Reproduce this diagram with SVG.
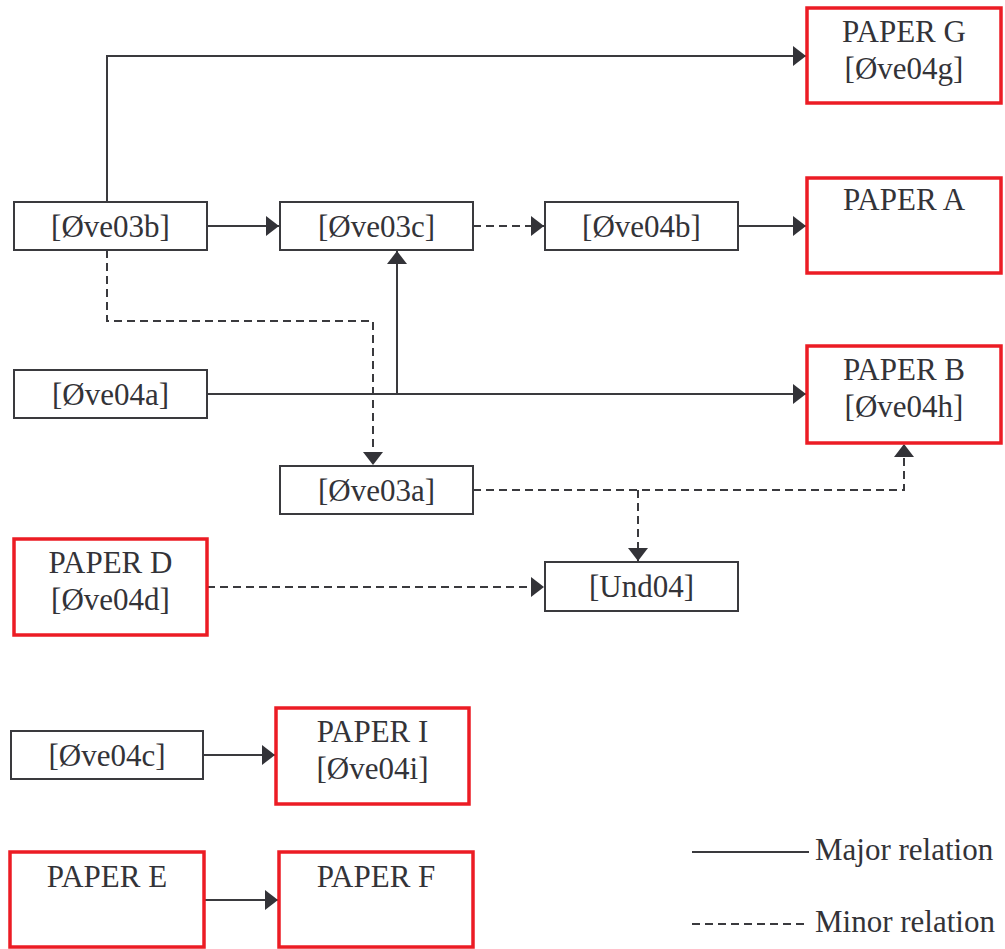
<svg xmlns="http://www.w3.org/2000/svg" width="1005" height="949" viewBox="0 0 1005 949">
<style>
.box{fill:#fff;stroke:#3a3a3e;stroke-width:2}
.paper{fill:#fff;stroke:#ec1c24;stroke-width:3.5}
.major{fill:none;stroke:#3a3a3e;stroke-width:2}
.minor{fill:none;stroke:#3a3a3e;stroke-width:2;stroke-dasharray:8 5}
svg g text{font-family:'Liberation Serif',serif !important}
</style>
<defs>
<marker id="ah" viewBox="0 0 13 20" refX="13" refY="10" markerWidth="13" markerHeight="20" markerUnits="userSpaceOnUse" orient="auto">
<path d="M0,0 L13,10 L0,20 Z" fill="#333338"/>
</marker>
</defs>
<rect width="1005" height="949" fill="#fff"/>
<g id="connectors">
<path class="major" d="M107,202 V56 H806" marker-end="url(#ah)"/>
<path class="major" d="M207,226 H279" marker-end="url(#ah)"/>
<path class="minor" d="M473,226 H544" marker-end="url(#ah)"/>
<path class="major" d="M738,226 H806" marker-end="url(#ah)"/>
<path class="major" d="M207,394 H806" marker-end="url(#ah)"/>
<path class="major" d="M397,394 V251" marker-end="url(#ah)"/>
<path class="minor" d="M107,250 V321 H373 V465" marker-end="url(#ah)"/>
<path class="minor" d="M473,490 H904 V444" marker-end="url(#ah)"/>
<path class="minor" d="M638,490 V561" marker-end="url(#ah)"/>
<path class="minor" d="M207,587 H544" marker-end="url(#ah)"/>
<path class="major" d="M203,755 H275" marker-end="url(#ah)"/>
<path class="major" d="M204,900 H278" marker-end="url(#ah)"/>
<path class="major" d="M692,852 H809"/>
<path class="minor" d="M692,924 H809" stroke-dasharray="7 5"/>
</g>
<g font-family="Liberation Serif, serif" font-size="31" fill="#333338" text-anchor="middle">
<g id="n_ove03b"><rect class="box" x="14" y="202" width="193" height="48"/><text x="110.5" y="237" style="font-family:'Liberation Serif',serif !important">[Øve03b]</text></g>
<g id="n_ove03c"><rect class="box" x="280" y="202" width="193" height="48"/><text x="376.5" y="237" style="font-family:'Liberation Serif',serif !important">[Øve03c]</text></g>
<g id="n_ove04b"><rect class="box" x="545" y="202" width="193" height="48"/><text x="641.5" y="237" style="font-family:'Liberation Serif',serif !important">[Øve04b]</text></g>
<g id="n_paperG"><rect class="paper" x="807" y="8" width="194" height="95"/><text x="904" y="42" style="font-family:'Liberation Serif',serif !important">PAPER G</text><text x="904" y="79" style="font-family:'Liberation Serif',serif !important">[Øve04g]</text></g>
<g id="n_paperA"><rect class="paper" x="807" y="178" width="194" height="95"/><text x="904" y="210" style="font-family:'Liberation Serif',serif !important">PAPER A</text></g>
<g id="n_ove04a"><rect class="box" x="14" y="370" width="193" height="48"/><text x="110.5" y="405" style="font-family:'Liberation Serif',serif !important">[Øve04a]</text></g>
<g id="n_paperB"><rect class="paper" x="807" y="346" width="194" height="97"/><text x="904" y="380" style="font-family:'Liberation Serif',serif !important">PAPER B</text><text x="904" y="417" style="font-family:'Liberation Serif',serif !important">[Øve04h]</text></g>
<g id="n_ove03a"><rect class="box" x="280" y="466" width="193" height="48"/><text x="376.5" y="501" style="font-family:'Liberation Serif',serif !important">[Øve03a]</text></g>
<g id="n_und04"><rect class="box" x="545" y="562" width="193" height="49"/><text x="641.5" y="597" style="font-family:'Liberation Serif',serif !important">[Und04]</text></g>
<g id="n_paperD"><rect class="paper" x="14" y="539" width="193" height="96"/><text x="110.5" y="573" style="font-family:'Liberation Serif',serif !important">PAPER D</text><text x="110.5" y="610" style="font-family:'Liberation Serif',serif !important">[Øve04d]</text></g>
<g id="n_ove04c"><rect class="box" x="11" y="731" width="192" height="48"/><text x="107" y="766" style="font-family:'Liberation Serif',serif !important">[Øve04c]</text></g>
<g id="n_paperI"><rect class="paper" x="276" y="708" width="193" height="96"/><text x="372.5" y="742" style="font-family:'Liberation Serif',serif !important">PAPER I</text><text x="372.5" y="779" style="font-family:'Liberation Serif',serif !important">[Øve04i]</text></g>
<g id="n_paperE"><rect class="paper" x="10" y="852" width="194" height="95"/><text x="107" y="887" style="font-family:'Liberation Serif',serif !important">PAPER E</text></g>
<g id="n_paperF"><rect class="paper" x="279" y="852" width="194" height="95"/><text x="376" y="887" style="font-family:'Liberation Serif',serif !important">PAPER F</text></g>
<g id="legend" text-anchor="start">
<text x="815" y="860" style="font-family:'Liberation Serif',serif !important">Major relation</text>
<text x="815" y="932" style="font-family:'Liberation Serif',serif !important">Minor relation</text>
</g>
</g>
</svg>
